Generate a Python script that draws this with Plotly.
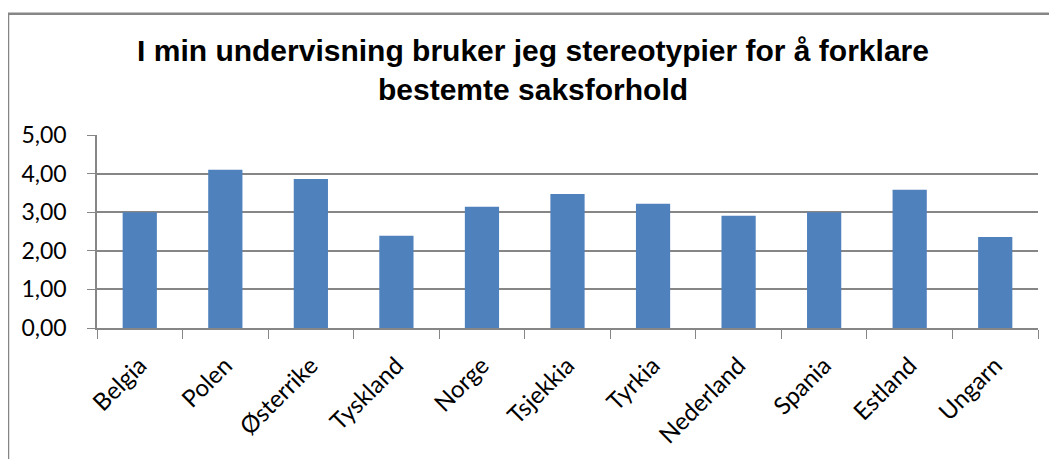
import plotly.graph_objects as go

categories = ["Belgia", "Polen", "Østerrike", "Tyskland", "Norge", "Tsjekkia",
              "Tyrkia", "Nederland", "Spania", "Estland", "Ungarn"]
values = [3.00, 4.10, 3.86, 2.39, 3.14, 3.47, 3.22, 2.91, 3.00, 3.58, 2.36]
y_ticks = [0, 1, 2, 3, 4, 5]

title_text = "I min undervisning bruker jeg stereotypier for å forklare<br>bestemte saksforhold"

# page body has an 8px margin, so figure coords = window coords - 8
W, H = 1057, 459
L, R, T, B = 89, 27, 127, 138.5
pw = W - L - R
ph = H - T - B

fig = go.Figure(go.Bar(x=categories, y=values, marker_color="#4F81BD",
                       marker_line_width=0))

grid = "#868686"
fam = "Lato, Open Sans, sans-serif"
fig.update_layout(
    width=W, height=H,
    margin=dict(l=L, r=R, t=T, b=B, pad=0),
    paper_bgcolor="white", plot_bgcolor="white",
    separators=", ",
    bargap=0.6,
    showlegend=False,
    title=dict(text=title_text, x=525 / W, xanchor="center",
               y=1 - 53 / H, yanchor="middle",
               font=dict(family="Liberation Sans", size=30, color="black", weight="bold")),
    font=dict(family=fam, size=22, color="black"),
)
fig.update_yaxes(range=[0, 5], tickvals=y_ticks, tickformat=".2f",
                 showgrid=True, gridcolor=grid, gridwidth=1.5,
                 showline=True, linecolor=grid, linewidth=1.5,
                 ticks="outside", ticklen=8, tickcolor=grid, tickwidth=1,
                 zeroline=False, ticklabelstandoff=16,
                 tickfont=dict(size=23, family=fam, color="black"))
fig.update_xaxes(showgrid=False, showline=True, linecolor=grid, linewidth=2,
                 ticks="outside", tickson="boundaries", ticklen=9, tickcolor=grid,
                 tickwidth=1, tickangle=-45, ticklabelstandoff=12,
                 tickfont=dict(size=24, family=fam, color="black"))

# outer chart-area border (extends past right/bottom edge as in reference)
fig.add_shape(type="rect", xref="paper", yref="paper",
              x0=(0 - L) / pw, x1=(W + 20 - L) / pw,
              y0=-(H + 20 - T - ph) / ph, y1=(H - B - 5.5) / ph,
              line=dict(color=grid, width=2.5), fillcolor="rgba(0,0,0,0)", layer="below")

fig.write_html("out.html")
